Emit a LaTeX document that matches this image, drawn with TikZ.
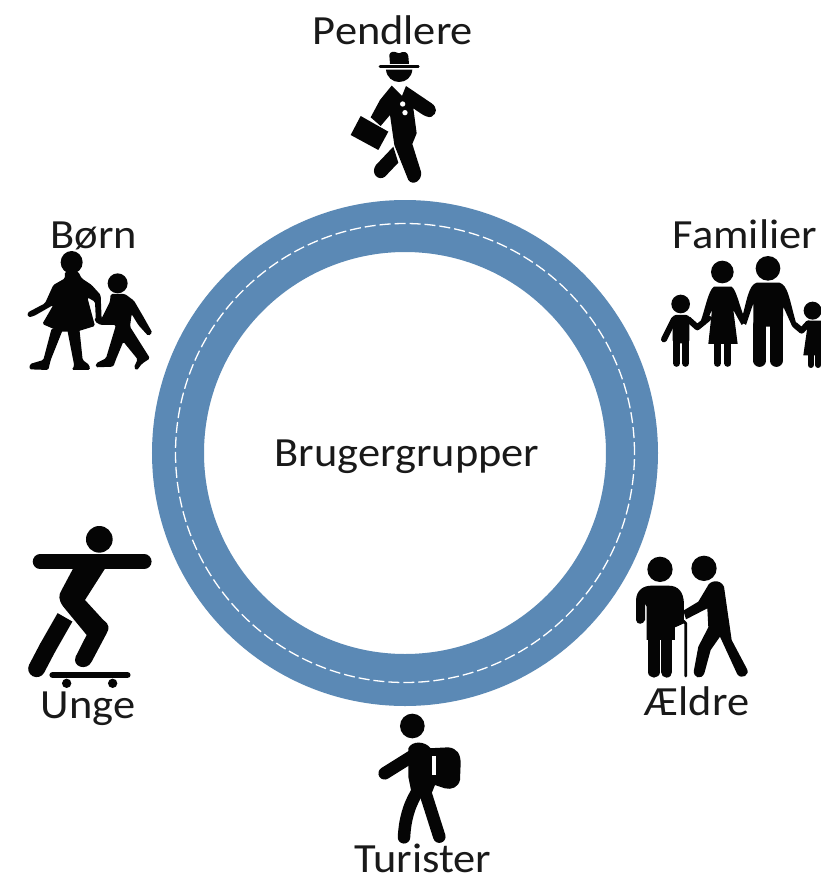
\documentclass[tikz,border=0pt]{standalone}
\usepackage{fontspec}
\setmainfont{Carlito}[FakeStretch=1.07]
\definecolor{ringblue}{RGB}{91,137,181}
\definecolor{figblack}{RGB}{5,5,5}
\definecolor{labelink}{RGB}{25,25,25}
\tikzset{
  lbl/.style={font=\fontsize{41.5}{44}\selectfont,text=labelink,inner sep=0pt,anchor=base},
  sil/.style={fill=figblack,draw=none},
  limb/.style={draw=figblack,line cap=round,line join=round},
  zoomed/.style={shift={(#1)},x=0.3333pt,y=-0.3333pt},
}
\begin{document}
\begin{tikzpicture}[x=1pt,y=-1pt]
\useasboundingbox (0,0) rectangle (821,879);
\fill[white] (0,0) rectangle (821,879);
% ring
\coordinate (hub) at (405,453);
\draw[ringblue,line width=52pt] (hub) circle[radius=227pt];
\draw[white,line width=1.3pt,dash pattern=on 11pt off 4pt] (hub) circle[radius=229.5pt];
% labels
\node[lbl] (centre) at (407,466) {Brugergrupper};
\node[lbl] (pendlere) at (393,44) {Pendlere};
\node[lbl] (familier) at (745,248) {Familier};
\node[lbl] (born) at (94,248) {Børn};
\node[lbl] (unge) at (88,718) {Unge};
\node[lbl] (aeldre) at (697,715) {Ældre};
\node[lbl] (turister) at (423,872) {Turister};
% Pendlere
\begin{scope}[zoomed={330,0}]
\fill[sil] (180,192) -- (178,165) .. controls (180,155) and (190,152) .. (207,160) .. controls (222,152) and (232,155) .. (235,168) -- (237,192) -- cycle;
\draw[limb,line width=2.6pt] (150,199) -- (265,199);
\fill[sil] (168,209) .. controls (170,232) and (188,246) .. (207,246) .. controls (228,246) and (245,232) .. (247,209) -- cycle;
\fill[sil] (185,257) -- (216,288) -- (228,258) -- (305,310) .. controls (322,322) and (322,340) .. (305,350) .. controls (295,354) and (285,350) .. (250,325) -- (260,400) -- (247,432) -- (273,515) .. controls (278,540) and (250,560) .. (235,540) -- (193,435) -- (180,345) -- (152,378) -- (122,352) -- (150,300) -- cycle;
\fill[sil] (190,440) -- (205,488) -- (165,530) .. controls (145,545) and (120,520) .. (138,495) -- cycle;
\fill[sil] (92,348) -- (175,395) -- (145,450) -- (62,405) -- cycle;
\fill[white] (218,312) circle[radius=8] (225,338) circle[radius=8];
\end{scope}
% Familier
\begin{scope}[zoomed={640,210}]
\fill[sil] (122,282) circle[radius=28] (247,186) circle[radius=34] (384,175) circle[radius=37] (518,302) circle[radius=27];
% child 1
\fill[sil,rounded corners=3pt] (98,315) -- (148,315) -- (148,400) -- (98,400) -- cycle;
\draw[limb,line width=7pt] (110,395) -- (110,460) (137,395) -- (137,460);
\draw[limb,line width=6pt] (102,328) -- (72,388);
\draw[limb,line width=6pt] (145,328) -- (172,352) -- (205,325);
% mother
\fill[sil] (222,230) -- (275,230) .. controls (290,240) and (298,290) .. (318,335) -- (305,345) -- (280,300) -- (293,402) -- (205,402) -- (216,300) -- (195,345) -- (180,340) .. controls (195,300) and (205,240) .. (222,230) -- cycle;
\draw[limb,line width=7pt] (232,400) -- (232,460) (264,400) -- (264,460);
% father
\fill[sil] (350,218) -- (418,218) .. controls (445,225) and (448,270) .. (470,345) -- (457,350) -- (430,290) -- (428,350) -- (340,350) -- (340,280) -- (318,345) -- (303,335) .. controls (320,275) and (325,225) .. (350,218) -- cycle;
\draw[limb,line width=12.5pt] (359,345) -- (359,452) (409,345) -- (409,452);
\draw[limb,line width=6pt] (465,345) -- (485,362) -- (505,340);
% child 2
\fill[sil] (505,332) -- (543,332) -- (543,436) -- (490,436) -- cycle;
\draw[limb,line width=6pt] (512,436) -- (512,465) (535,436) -- (535,465);
\end{scope}
% Born
\begin{scope}[zoomed={10,210}]
\fill[sil] (185,157) ellipse[x radius=33,y radius=34];
\fill[sil] (323,220) circle[radius=30];
% girl
\fill[sil,rounded corners=1.5pt] (165,185) -- (205,185) -- (215,205) -- (245,225) -- (272,255) -- (275,330) -- (258,338) -- (255,275) -- (232,262) -- (255,348) -- (200,365) -- (150,365) -- (97,342) -- (130,285) -- (72,318) -- (55,322) -- (52,308) -- (105,280) -- (130,225) -- (165,205) -- cycle;
\fill[sil,rounded corners=1.5pt] (125,355) -- (100,450) -- (60,462) -- (58,478) -- (115,480) -- (122,450) -- (158,360) -- cycle;
\fill[sil,rounded corners=1.5pt] (172,360) -- (193,468) -- (185,480) -- (240,480) -- (238,465) -- (218,450) -- (208,355) -- cycle;
% boy
\fill[sil,rounded corners=1.5pt] (302,252) -- (345,252) -- (372,272) -- (400,320) -- (427,368) -- (415,378) -- (385,345) -- (365,312) -- (360,350) -- (420,445) -- (395,462) -- (380,482) -- (372,472) -- (383,448) -- (340,395) -- (318,448) -- (310,470) -- (258,472) -- (258,460) -- (288,445) -- (318,345) -- (272,345) -- (255,335) -- (255,322) -- (275,325) -- (300,275) -- cycle;
\end{scope}
% Unge
\begin{scope}[zoomed={10,510}]
\fill[sil] (268,88) circle[radius=40];
\draw[limb,line width=14.5pt] (90,155) -- (403,155);
\fill[sil] (195,165) -- (292,165) -- (225,270) -- (280,330) .. controls (300,345) and (298,355) .. (290,370) -- (245,455) .. controls (230,485) and (185,470) .. (197,440) -- (230,375) -- (160,290) .. controls (145,270) and (145,255) .. (155,240) -- cycle;
\draw[limb,line width=17pt,line cap=butt] (165,322) -- (112,415);
\draw[limb,line width=17pt] (112,415) -- (80,476);
\draw[limb,line width=6.5pt] (128,495) -- (352,495);
\fill[sil] (170,520) circle[radius=14] (308,520) circle[radius=14];
\end{scope}
% AEldre
\begin{scope}[zoomed={620,540}]
\fill[sil] (120,88) circle[radius=38] (252,85) circle[radius=38];
% left man
\fill[sil] (48,180) .. controls (50,150) and (70,137) .. (95,137) -- (145,137) .. controls (175,137) and (190,155) .. (192,190) -- (192,250) -- (165,262) -- (165,300) -- (80,300) -- (80,200) -- (75,190) -- (75,240) .. controls (70,255) and (50,255) .. (48,240) -- cycle;
\draw[limb,line width=11.3pt] (102,300) -- (102,396) (140,300) -- (140,396);
\draw[limb,line width=2.8pt] (170,255) -- (190,243) -- (197,250) -- (197,408);
% right man
\fill[sil] (262,140) .. controls (268,122) and (300,115) .. (312,140) -- (335,300) -- (380,385) .. controls (392,405) and (365,420) .. (352,403) -- (300,290) -- (272,330) -- (253,400) .. controls (245,420) and (218,415) .. (222,390) -- (235,320) -- (265,262) -- (262,205) -- (198,238) -- (190,212) -- (235,185) -- cycle;
\end{scope}
% Turister
\begin{scope}[zoomed={340,700}]
\fill[sil] (217,78) circle[radius=37];
\fill[sil] (265,145) -- (325,142) .. controls (350,145) and (362,160) .. (362,190) -- (360,240) .. controls (355,262) and (335,270) .. (315,265) -- (270,250) -- cycle;
\fill[sil] (205,145) .. controls (215,122) and (255,122) .. (272,145) -- (285,255) -- (275,280) -- (215,280) -- (205,230) -- cycle;
\draw[limb,line width=12.5pt] (222,165) -- (134,220);
\draw[limb,line width=12.5pt] (232,275) .. controls (205,320) and (195,360) .. (192,412);
\draw[limb,line width=12.5pt] (255,275) -- (298,410);
\fill[white] (275,168) rectangle (287,224);
\end{scope}
\end{tikzpicture}
\end{document}
